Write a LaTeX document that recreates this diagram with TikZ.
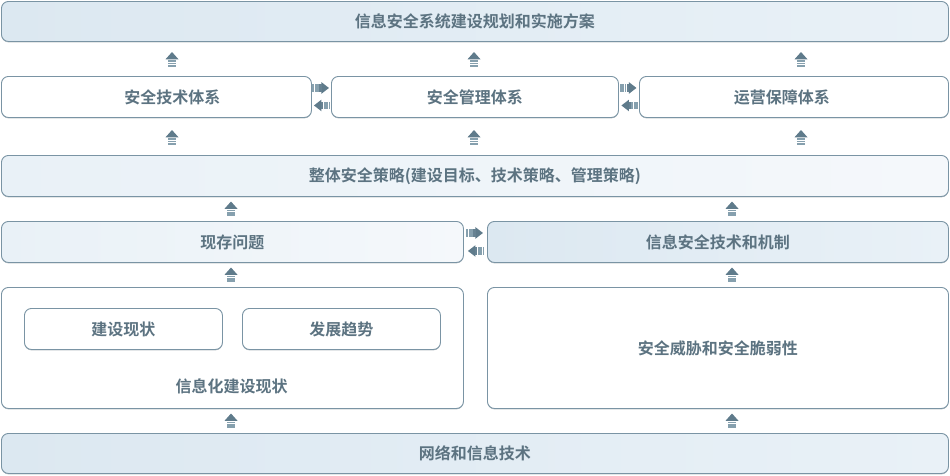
\documentclass[tikz,border=0pt]{standalone}
\usepackage{fontspec}
\setmainfont{Noto Sans CJK SC}[BoldFont={Noto Sans CJK SC Bold}]
\usetikzlibrary{calc,shadows}
\definecolor{bd}{HTML}{7A94A4}
\definecolor{tx}{HTML}{5C7381}
\definecolor{arh}{HTML}{5F7B8B}
\definecolor{ars}{HTML}{86A0AE}
\definecolor{gA}{HTML}{DCE8F1}
\definecolor{gB}{HTML}{E9F1F7}
\definecolor{gC}{HTML}{F5F8FB}
\begin{document}
\begin{tikzpicture}[x=1pt,y=-1pt,
  box/.style={draw=bd, line width=0.9pt, rounded corners=7pt, fill=white,
    text=tx, font=\bfseries\fontsize{16}{19}\selectfont, anchor=north west,
    inner sep=0pt,
    drop shadow={shadow xshift=0pt, shadow yshift=-0.9pt, fill=bd!70!black, opacity=0.45}},
  shadeA/.style={left color=gA, right color=gB},
  shadeB/.style={left color=gB, right color=gC},
  lbl/.style={text=tx, font=\bfseries\fontsize{16}{19}\selectfont, inner sep=0pt},
  uparr/.pic={
    \fill[arh] (-6.5,0.3) -- (0,-7) -- (6.5,0.3) -- cycle;
    \foreach \yy in {1.1,3.5,5.9} \fill[ars] (-3.8,\yy) rectangle (3.8,\yy+1.7);
  },
  rarr/.pic={
    \fill[arh] (0,-5.8) -- (7.5,0) -- (0,5.8) -- cycle;
    \fill[arh!80!ars] (-2,-3.6) rectangle (0.2,3.6);
    \foreach \xx in {-9,-6.6,-4.2} \fill[ars] (\xx,-3.6) rectangle (\xx+1.7,3.6);
  },
  larr/.pic={
    \fill[arh] (0,-5.8) -- (-7.5,0) -- (0,5.8) -- cycle;
    \fill[arh!80!ars] (2,-3.6) rectangle (-0.2,3.6);
    \foreach \xx in {9,6.6,4.2} \fill[ars] (\xx,-3.6) rectangle (\xx-1.7,3.6);
  }]
\useasboundingbox (0,0) rectangle (950,475);

% top
\node[box, shadeA, minimum width=947pt, minimum height=40pt] (plan) at (1,1) {信息安全系统建设规划和实施方案};
% row 2
\node[box, minimum width=310pt, minimum height=41pt] (tech) at (1,76) {\hspace*{32pt}安全技术体系};
\node[box, minimum width=287pt, minimum height=41pt] (mgmt) at (331,76) {安全管理体系};
\node[box, minimum width=309pt, minimum height=41pt] (ops) at (639,76) {运营保障体系\hspace*{24pt}};
% row 3
\node[box, shadeB, minimum width=947pt, minimum height=41pt] (strat) at (1,155) {整体安全策略(建设目标、技术策略、管理策略)};
% row 4
\node[box, shadeB, minimum width=462pt, minimum height=41pt] (prob) at (1,221) {现存问题};
\node[box, shadeA, minimum width=461pt, minimum height=41pt] (mech) at (487,221) {信息安全技术和机制};
% row 5
\node[box, minimum width=462pt, minimum height=121pt] (status) at (1,287) {};
\node[box, minimum width=198pt, minimum height=41pt] (cur) at (24,308) {建设现状};
\node[box, minimum width=198pt, minimum height=41pt] (trend) at (242,308) {发展趋势};
\node[lbl] (statuslbl) at (231.5,386) {信息化建设现状};
\node[box, minimum width=461pt, minimum height=121pt] (threat) at (487,287) {安全威胁和安全脆弱性};
% bottom
\node[box, shadeA, minimum width=947pt, minimum height=40pt] (net) at (1,433) {网络和信息技术};

% vertical arrows
\pic at (172,59) {uparr};
\pic at (474,59) {uparr};
\pic at (801,59) {uparr};
\pic at (172,137) {uparr};
\pic at (474,137) {uparr};
\pic at (801,137) {uparr};
\pic at (231,208.5) {uparr};
\pic at (732,208.5) {uparr};
\pic at (231,274.5) {uparr};
\pic at (732,274.5) {uparr};
\pic at (231,420.5) {uparr};
\pic at (732,420.5) {uparr};

% horizontal arrows
\pic at ($($(tech.east)!0.5!(mgmt.west)$)+(0,-9)$) {rarr};
\pic at ($($(tech.east)!0.5!(mgmt.west)$)+(0,8.5)$) {larr};
\pic at ($($(mgmt.east)!0.5!(ops.west)$)+(0,-9)$) {rarr};
\pic at ($($(mgmt.east)!0.5!(ops.west)$)+(0,8.5)$) {larr};
\pic at ($($(prob.east)!0.5!(mech.west)$)+(0,-9)$) {rarr};
\pic at ($($(prob.east)!0.5!(mech.west)$)+(0,9)$) {larr};
\end{tikzpicture}
\end{document}
